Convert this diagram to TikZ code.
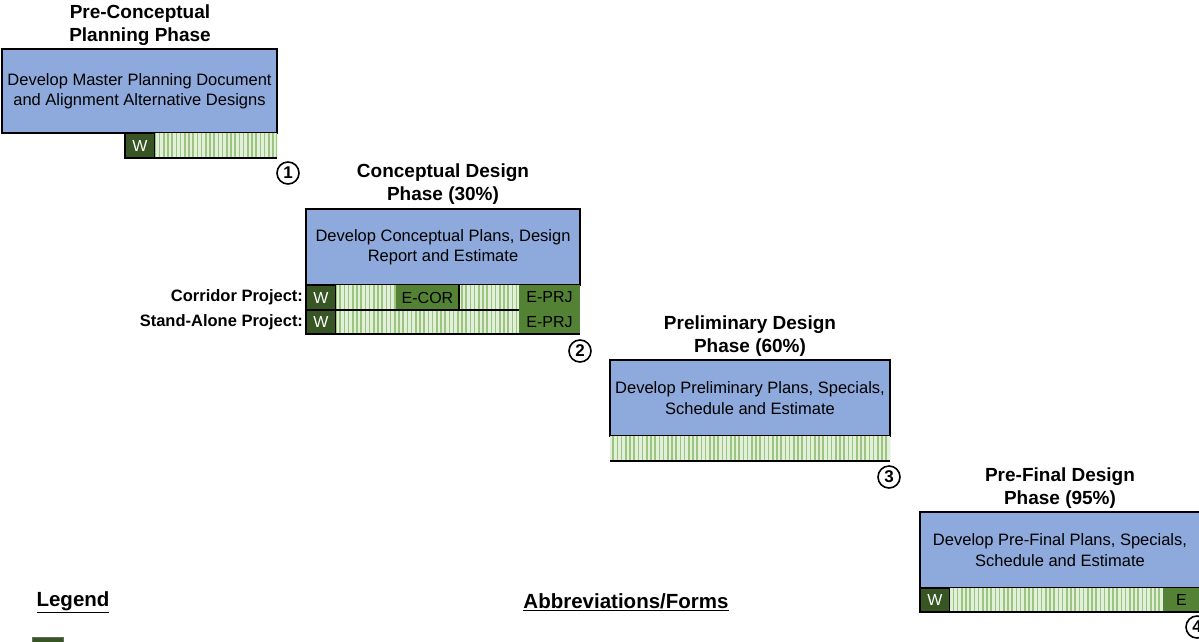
\documentclass[tikz,border=0pt]{standalone}
\usepackage{fontspec}
\setmainfont{Liberation Sans}
\usetikzlibrary{positioning,patterns.meta}
\definecolor{phaseblue}{HTML}{8EA9DB}
\definecolor{wgreen}{HTML}{375623}
\definecolor{egreen}{HTML}{548235}
\definecolor{hatchbg}{HTML}{E2EFDA}
\definecolor{hatchline}{HTML}{9BC57C}

\begin{document}
\begin{tikzpicture}[x=1pt, y=1pt, yscale=-1, inner sep=0pt, outer sep=0pt,
	phase/.style={rectangle, draw=black, line width=1.2, fill=phaseblue, anchor=north west, align=center, font=\fontsize{16.5}{20.5}\selectfont},
	title/.style={align=center, font=\bfseries\fontsize{19}{22.5}\selectfont},
	wcell/.style={rectangle, draw=black, line width=1.2, fill=wgreen, text=white, minimum width=30, minimum height=25, font=\fontsize{16}{16}\selectfont},
	ecell/.style={rectangle, fill=egreen, minimum height=25, font=\fontsize{16}{16}\selectfont},
	hatch/.style={rectangle, preaction={fill=hatchbg}, pattern={Lines[angle=90, distance=4.2pt, line width=1.5pt]}, pattern color=hatchline, minimum height=25},
	stepno/.style={circle, draw=black, line width=1.6, minimum size=22, font=\bfseries\fontsize{17}{17}\selectfont},
	rowlabel/.style={font=\bfseries\fontsize{16.5}{16.5}\selectfont},
	heading/.style={font=\bfseries\fontsize{20.5}{20.5}\selectfont}]
\useasboundingbox (0,0) rectangle (1199,641);

% pre-conceptual planning
\node[title] (t1) at (140,25) {Pre-Conceptual\\Planning Phase};
\node[phase, minimum width=275, minimum height=84] (p1) at (2,49) {Develop Master Planning Document\\and Alignment Alternative Designs};
\node[wcell, anchor=north west] (w1) at (125,133) {W};
\node[hatch, right=0pt of w1, minimum width=122] (h1) {};
\draw[line width=1.2] (w1.south west) -- (h1.south east);
\node[stepno] (s1) at (288,173) {1};

% conceptual design
\node[title] (t2) at (443,184) {Conceptual Design\\Phase (30\%)};
\node[phase, minimum width=274, minimum height=76] (p2) at (306,209) {Develop Conceptual Plans, Design\\Report and Estimate};
\node[wcell, anchor=north west] (w2a) at (306,285) {W};
\node[hatch, right=0pt of w2a, minimum width=60] (h2a) {};
\node[ecell, right=0pt of h2a, minimum width=63] (e2a) {E-COR};
\node[hatch, right=0pt of e2a, minimum width=60] (h2b) {};
\node[ecell, right=0pt of h2b, minimum width=61] (e2b) {E-PRJ};
\draw[line width=1.2] (e2a.north east) -- (e2a.south east);
\node[wcell, anchor=north west, minimum height=24] (w2b) at (306,310) {W};
\node[hatch, right=0pt of w2b, minimum width=183, minimum height=24] (h2c) {};
\node[ecell, right=0pt of h2c, minimum width=61, minimum height=24] (e2c) {E-PRJ};
\draw[line width=1.2] (w2b.north west) -- (h2c.north east);
\draw[line width=1.2] (w2b.south west) -- (e2c.south east);
\node[rowlabel, left=3pt of w2a] (l2a) {Corridor Project:};
\node[rowlabel, left=3pt of w2b] (l2b) {Stand-Alone Project:};
\node[stepno] (s2) at (580,351) {2};

% preliminary design
\node[title] (t3) at (750,336) {Preliminary Design\\Phase (60\%)};
\node[phase, minimum width=280, minimum height=76] (p3) at (610,360) {Develop Preliminary Plans, Specials,\\Schedule and Estimate};
\node[hatch, anchor=north west, minimum width=280] (h3) at (610,436) {};
\draw[line width=1.2] (h3.south west) -- (h3.south east);
\node[stepno] (s3) at (889,477) {3};

% pre-final design
\node[title] (t4) at (1060,488) {Pre-Final Design\\Phase (95\%)};
\node[phase, minimum width=280, minimum height=76] (p4) at (920,512) {Develop Pre-Final Plans, Specials,\\Schedule and Estimate};
\node[wcell, anchor=north west, minimum height=24] (w4) at (920,588) {W};
\node[hatch, right=0pt of w4, minimum width=213, minimum height=24] (h4) {};
\node[ecell, right=0pt of h4, minimum width=37, minimum height=24] (e4) {E};
\draw[line width=1.2] (w4.south west) -- (e4.south east);
\node[stepno] (s4) at (1197,627) {4};

% legend
\node[heading] (legend) at (73,602) {\underline{Legend}};
\node[heading] (abbrev) at (626,602) {\underline{Abbreviations/Forms}};
\node[rectangle, fill=wgreen, draw=black!60, line width=1, anchor=north west, minimum width=31, minimum height=20] (key) at (32,637) {};
\end{tikzpicture}
\end{document}
